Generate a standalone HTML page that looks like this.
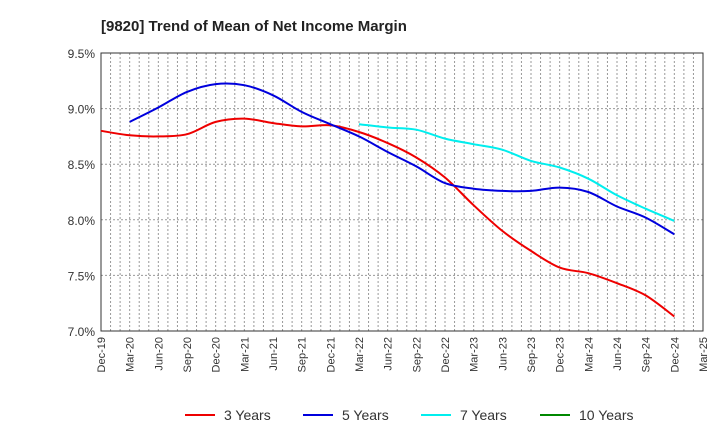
<!DOCTYPE html>
<html><head><meta charset="utf-8"><style>
body{margin:0;background:#fff;font-family:"Liberation Sans",Arial,sans-serif}
</style></head><body>
<svg id="chart" width="720" height="440" xmlns="http://www.w3.org/2000/svg">
<text x="101" y="31" font-size="15" font-weight="bold" fill="#222">[9820]  Trend of Mean of Net Income Margin</text>
<g id="grid"></g>
<g id="axes"></g>
<g id="series"></g>
<g id="legend"></g>
</svg>
<script>
const xLabels=["Dec-19","Mar-20","Jun-20","Sep-20","Dec-20","Mar-21","Jun-21","Sep-21","Dec-21","Mar-22","Jun-22","Sep-22","Dec-22","Mar-23","Jun-23","Sep-23","Dec-23","Mar-24","Jun-24","Sep-24","Dec-24","Mar-25"];
const yTicks=[7.0,7.5,8.0,8.5,9.0,9.5];
const s3=[8.80,8.76,8.75,8.77,8.88,8.91,8.87,8.84,8.85,8.79,8.69,8.56,8.38,8.13,7.90,7.72,7.57,7.52,7.43,7.32,7.13];
const s5=[null,8.88,9.01,9.15,9.22,9.21,9.12,8.97,8.86,8.75,8.61,8.48,8.33,8.28,8.26,8.26,8.29,8.25,8.12,8.02,7.87];
const s7=[null,null,null,null,null,null,null,null,null,8.86,8.83,8.81,8.73,8.68,8.63,8.53,8.47,8.37,8.22,8.10,7.99];
const s10=[];
const names=["3 Years","5 Years","7 Years","10 Years"];
const colors=["#ee0000","#0000dd","#00eeee","#008800"];
const L=101,R=703,T=53,B=331;
const xs=i=>L+i*(R-L)/(xLabels.length-1);
const ys=v=>B-(v-7.0)/(9.5-7.0)*(B-T);
const NS="http://www.w3.org/2000/svg";
function mk(t,a,p){const e=document.createElementNS(NS,t);for(const k in a)e.setAttribute(k,a[k]);p.appendChild(e);return e;}
const grid=document.getElementById('grid'),axes=document.getElementById('axes'),ser=document.getElementById('series'),leg=document.getElementById('legend');
const months=(xLabels.length-1)*3;
for(let m=1;m<months;m++){const x=L+m*(R-L)/months;const g=mk('line',{x1:x,x2:x,y1:T,y2:B,stroke:'#999','stroke-dasharray':'2,2','stroke-width':1},grid);

}
yTicks.forEach(v=>{const y=ys(v);const g=mk('line',{x1:L,x2:R,y1:y,y2:y,stroke:'#999','stroke-dasharray':'2,2'},grid);


const t=mk('text',{x:L-6,y:y+5,'text-anchor':'end','font-size':12,fill:'#333'},axes);t.textContent=v.toFixed(1)+'%';

});
const fr=mk('rect',{x:L,y:T,width:R-L,height:B-T,fill:'none',stroke:'#333'},axes);


xLabels.forEach((l,i)=>{const x=xs(i);const t=mk('text',{x:x+4,y:B+6,'text-anchor':'end','font-size':11,fill:'#333',transform:`rotate(-90 ${x+4} ${B+6})`},axes);t.textContent=l;

});
function smooth(pts){if(pts.length<2)return '';let d='M'+pts[0][0].toFixed(1)+','+pts[0][1].toFixed(1);
for(let i=0;i<pts.length-1;i++){const p0=pts[i-1]||pts[i],p1=pts[i],p2=pts[i+1],p3=pts[i+2]||p2;
const c1=[p1[0]+(p2[0]-p0[0])/6,p1[1]+(p2[1]-p0[1])/6],c2=[p2[0]-(p3[0]-p1[0])/6,p2[1]-(p3[1]-p1[1])/6];
d+='C'+c1.map(n=>n.toFixed(1)).join(',')+' '+c2.map(n=>n.toFixed(1)).join(',')+' '+p2[0].toFixed(1)+','+p2[1].toFixed(1);}return d;}
[s3,s5,s7,s10].forEach((s,k)=>{const pts=[];s.forEach((v,i)=>{if(v!=null)pts.push([xs(i),ys(v)]);});
const d=smooth(pts);if(!d)return;const p=mk('path',{d:d,fill:'none',stroke:colors[k],'stroke-width':2,'stroke-linejoin':'round'},ser);

});
const lx=[185,303,421,540];
names.forEach((n,k)=>{const g=mk('g',{},leg);


mk('line',{x1:lx[k],x2:lx[k]+30,y1:415,y2:415,stroke:colors[k],'stroke-width':2},g);
const t=mk('text',{x:lx[k]+39,y:420,'font-size':14,fill:'#333'},g);t.textContent=n;});
</script>
</body></html>
